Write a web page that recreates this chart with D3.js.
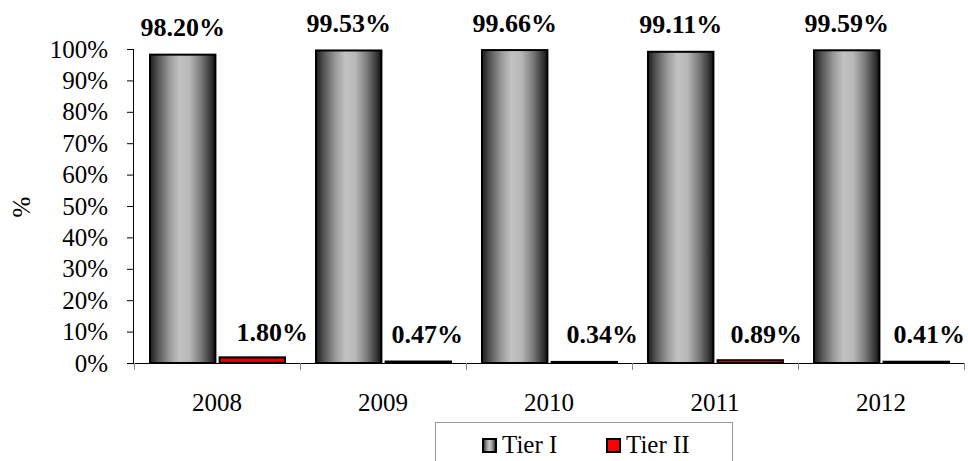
<!DOCTYPE html>
<html>
<head>
<meta charset="utf-8">
<script src="https://cdn.jsdelivr.net/npm/d3@7"></script>
<style>
  html, body { margin: 0; padding: 0; background: #fff; }
  svg { display: block; }
  svg text { font-family: "Liberation Serif", "Times New Roman", serif; fill: #000; }
</style>
</head>
<body>
<svg id="chart" width="968" height="461"></svg>
<script>
// Share of capital by tier, per year (%)
const years = ["2008", "2009", "2010", "2011", "2012"];
const seriesNames = ["Tier I", "Tier II"];
const tier1 = [98.20, 99.53, 99.66, 99.11, 99.59];
const tier2 = [1.80, 0.47, 0.34, 0.89, 0.41];
const yTicks = [0, 10, 20, 30, 40, 50, 60, 70, 80, 90, 100];
// horizontal nudge of the small Tier II value labels (px)
const tier2LabelNudge = [20, 9, 18, 16, 13];

const svg = d3.select("#chart");
const defs = svg.append("defs");

// cylinder-like shading for Tier I bars
const g1 = defs.append("linearGradient").attr("id", "gradTier1")
  .attr("x1", "0%").attr("x2", "100%").attr("y1", "0%").attr("y2", "0%");
[[0, "#1c1c1c"], [0.12, "#555"], [0.3, "#9a9a9a"], [0.45, "#c2c2c2"], [0.6, "#b8b8b8"],
 [0.78, "#7a7a7a"], [0.92, "#3a3a3a"], [1, "#111"]]
  .forEach(([o, c]) => g1.append("stop").attr("offset", o).attr("stop-color", c));

const g2 = defs.append("linearGradient").attr("id", "gradTier2")
  .attr("x1", "0%").attr("x2", "0%").attr("y1", "0%").attr("y2", "100%");
[[0, "#7a0000"], [0.5, "#ff0000"], [1, "#7a0000"]]
  .forEach(([o, c]) => g2.append("stop").attr("offset", o).attr("stop-color", c));

const plotLeft = 134, plotRight = 964, plotTop = 49, plotBottom = 363;

const x0 = d3.scaleBand().domain(years).range([plotLeft, plotRight]).paddingInner(0).paddingOuter(0);
const x1 = d3.scaleBand().domain(seriesNames).range([16, x0.bandwidth() - 15]).paddingInner(0.06);
const y = d3.scaleLinear().domain([0, 100]).range([plotBottom, plotTop]);

const data = years.map((yr, i) => ({ year: yr, values: [
  { series: "Tier I", value: tier1[i], fill: "url(#gradTier1)" },
  { series: "Tier II", value: tier2[i], fill: "url(#gradTier2)" }
]}));

// bars
const groups = svg.append("g").selectAll("g").data(data).join("g")
  .attr("transform", d => `translate(${x0(d.year)},0)`);

groups.selectAll("rect").data(d => d.values).join("rect")
  .attr("x", d => x1(d.series))
  .attr("width", x1.bandwidth())
  .attr("y", d => y(d.value))
  .attr("height", d => Math.max(0, y(0) - y(d.value)))
  .attr("fill", d => d.fill)
  .attr("stroke", "#000")
  .attr("stroke-width", 2);

// value labels
groups.each(function(d, i) {
  const g = d3.select(this);
  const v1 = d.values[0], v2 = d.values[1];
  g.append("text")
    .attr("x", x1("Tier I") + x1.bandwidth() / 2)
    .attr("y", y(v1.value) - 18.5)
    .attr("text-anchor", "middle")
    .style("font-weight", "bold").style("font-size", "26px")
    .text(v1.value.toFixed(2) + "%");
  g.append("text")
    .attr("x", x1("Tier II") + x1.bandwidth() / 2 + tier2LabelNudge[i])
    .attr("y", Math.min(343, y(v2.value) - 16))
    .attr("text-anchor", "middle")
    .style("font-weight", "bold").style("font-size", "26px")
    .text(v2.value.toFixed(2) + "%");
});

// y axis
const yAxis = svg.append("g").attr("transform", `translate(${plotLeft},0)`)
  .call(d3.axisLeft(y).tickValues(yTicks).tickFormat(d => d + "%").tickSize(7).tickPadding(19));
yAxis.select(".domain").attr("stroke", "#000").attr("d", `M-0.5,${plotTop}V${plotBottom}`);
yAxis.selectAll(".tick line").attr("stroke", "#000");
yAxis.selectAll("text").style("font-size", "25px").attr("dy", "0.32em");

// x axis: baseline with ticks at category boundaries
const xg = svg.append("g");
xg.append("line").attr("x1", plotLeft).attr("x2", plotRight).attr("y1", plotBottom + 0.5).attr("y2", plotBottom + 0.5)
  .attr("stroke", "#000");
const bounds = years.map(d => x0(d)).concat([plotRight]);
xg.selectAll(".bt").data(bounds).join("line").attr("class", "bt")
  .attr("x1", d => d + 0.5).attr("x2", d => d + 0.5)
  .attr("y1", plotBottom).attr("y2", plotBottom + 7)
  .attr("stroke", "#888");
xg.selectAll(".xl").data(years).join("text").attr("class", "xl")
  .attr("x", d => x0(d) + x0.bandwidth() / 2)
  .attr("y", 411)
  .attr("text-anchor", "middle").style("font-size", "25px")
  .text(d => d);

// y axis title
svg.append("text")
  .attr("transform", "translate(30,207) rotate(-90)")
  .attr("text-anchor", "middle").style("font-size", "25px")
  .text("%");

// legend
const lg = svg.append("g");
lg.append("rect").attr("x", 435.5).attr("y", 422.5).attr("width", 297).attr("height", 60)
  .attr("fill", "#fff").attr("stroke", "#999");
const legendItems = [
  { name: seriesNames[0], fill: "url(#gradTier1)", x: 483 },
  { name: seriesNames[1], fill: "#ff0000", x: 607 }
];
const li = lg.selectAll("g").data(legendItems).join("g")
  .attr("transform", d => `translate(${d.x},0)`);
li.append("rect").attr("x", 0).attr("y", 439).attr("width", 13).attr("height", 13)
  .attr("fill", d => d.fill).attr("stroke", "#000").attr("stroke-width", 2);
li.append("text").attr("x", 19).attr("y", 453).style("font-size", "25px").text(d => d.name);
</script>
</body>
</html>
